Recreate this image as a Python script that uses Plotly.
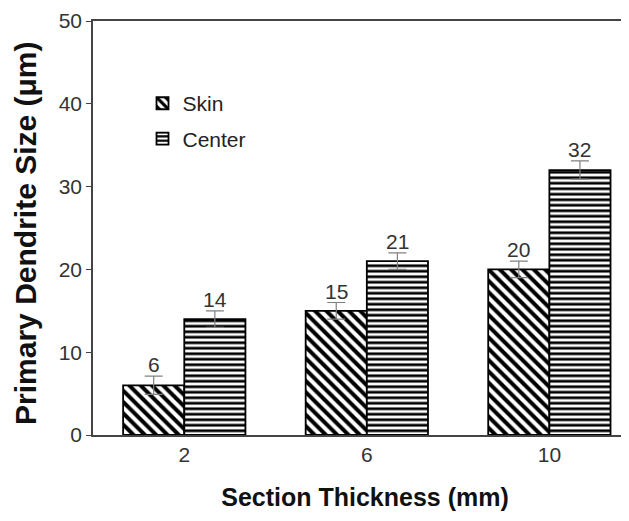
import plotly.graph_objects as go

categories = ["2", "6", "10"]
skin = [6, 15, 20]
center = [14, 21, 32]
skin_err = [1.1, 1.0, 1.0]
center_err = [1.0, 1.0, 1.1]

fig = go.Figure()
fig.add_trace(go.Bar(
    name="Skin", x=categories, y=skin, legendgroup="a",
    error_y=dict(type="data", array=skin_err, color="#808080", thickness=1.2, width=9),
    marker=dict(color="white", line=dict(color="black", width=1.8),
                pattern=dict(shape="\\", size=8, solidity=0.5, fgcolor="black", fgopacity=1, bgcolor="white")),
))
fig.add_trace(go.Bar(
    name="Center", x=categories, y=center, legendgroup="b",
    error_y=dict(type="data", array=center_err, color="#808080", thickness=1.2, width=9),
    marker=dict(color="white", line=dict(color="black", width=1.8),
                pattern=dict(shape="-", size=5.5, solidity=0.5, fgcolor="black", fgopacity=1, bgcolor="white")),
))

annotations = []
for i, (v, e) in enumerate(zip(skin, skin_err)):
    annotations.append(dict(x=i - 0.1675, y=v + e, text=str(v), showarrow=False,
                            yanchor="bottom", yshift=-2, font=dict(size=21, color="#333333")))
for i, (v, e) in enumerate(zip(center, center_err)):
    annotations.append(dict(x=i + 0.1675, y=v + e, text=str(v), showarrow=False,
                            yanchor="bottom", yshift=-2, font=dict(size=21, color="#333333")))
annotations.append(dict(xref="paper", yref="paper", x=-0.1232, y=0.488, textangle=-90,
                        text="<b>Primary Dendrite Size (μm)</b>", showarrow=False,
                        xanchor="center", yanchor="middle",
                        font=dict(size=30, color="#111111")))

fig.update_layout(
    width=629, height=521,
    margin=dict(l=85, r=0, t=13, b=94),
    plot_bgcolor="white", paper_bgcolor="white",
    font=dict(family="Arial, Liberation Sans, sans-serif", size=21, color="#333333"),
    barmode="group", bargap=0.33, bargroupgap=0,
    showlegend=True,
    legend=dict(x=0.091, y=0.85, xanchor="left", yanchor="top",
                bgcolor="rgba(0,0,0,0)", font=dict(size=21, color="#222222"),
                itemwidth=30, tracegroupgap=5),
    annotations=annotations,
    xaxis=dict(range=[-0.5, 2.48], showline=True, linecolor="#444444", linewidth=1.5,
               mirror=True, ticks="", showgrid=False, automargin=False,
               tickfont=dict(size=21),
               title=dict(text="<b>Section Thickness (mm)</b>", font=dict(size=25, color="#111111"),
                          standoff=24)),
    yaxis=dict(range=[0, 50], dtick=10, showline=True, linecolor="#444444", linewidth=1.5,
               ticks="outside", ticklen=5, tickcolor="#444444", showgrid=False, zeroline=False,
               automargin=False, tickfont=dict(size=21), ticklabeloverflow="allow"),
)

fig.write_html("out.html")
